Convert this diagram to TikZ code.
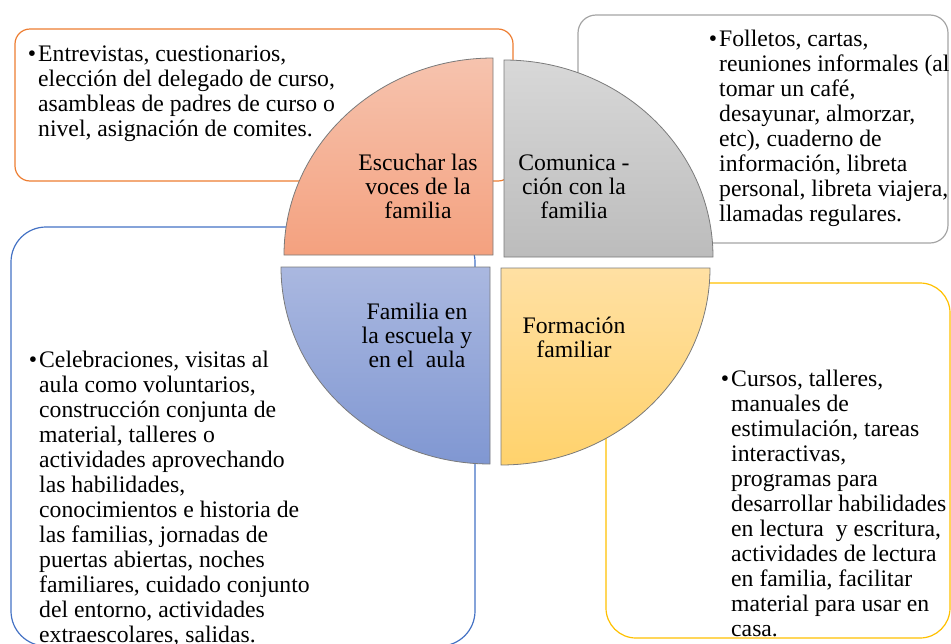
\documentclass[tikz,border=0pt]{standalone}
\usepackage{fontspec}
\setmainfont{Liberation Serif}
\definecolor{lineorange}{HTML}{ED7D31}
\definecolor{linegray}{HTML}{A5A5A5}
\definecolor{lineblue}{HTML}{4472C4}
\definecolor{lineyellow}{HTML}{FFC000}
\definecolor{quadedge}{HTML}{7A7A7A}
\begin{document}
\begin{tikzpicture}[x=1pt,y=-1pt,
  box/.style={line width=1.2pt,rounded corners=#1},
  quad/.style={draw=quadedge,line width=0.8pt},
  lbl/.style={inner sep=0pt,align=center,anchor=base,font=\fontsize{23.7}{24}\selectfont},
  txt/.style={inner sep=0pt,align=left,anchor=base west,font=\fontsize{23.7}{25}\selectfont}]
  \useasboundingbox (0,0) rectangle (951,643);
  \draw[box=15pt,draw=lineorange] (15,29) rectangle (513,181);
  \draw[box=18pt,draw=linegray] (578,15) rectangle (948,243);
  \draw[box=35pt,draw=lineblue] (11,227) rectangle (475,646);
  \draw[box=30pt,draw=lineyellow] (606,283) rectangle (950,638);
  \draw[quad,top color={rgb,255:red,246;green,195;blue,174},bottom color={rgb,255:red,244;green,161;blue,127}]
    (493,255) -- ++(-209,0) arc[start angle=180,end angle=270,x radius=209,y radius=197] -- cycle;
  \draw[quad,top color={rgb,255:red,216;green,216;blue,216},bottom color={rgb,255:red,188;green,188;blue,188}]
    (504,257) -- ++(0,-197) arc[start angle=270,end angle=360,x radius=209,y radius=197] -- cycle;
  \draw[quad,top color={rgb,255:red,255;green,224;blue,163},bottom color={rgb,255:red,255;green,210;blue,108}]
    (501,268) -- ++(209,0) arc[start angle=0,end angle=90,x radius=209,y radius=197] -- cycle;
  \draw[quad,top color={rgb,255:red,170;green,184;blue,224},bottom color={rgb,255:red,128;green,151;blue,210}]
    (490,267) -- ++(0,197) arc[start angle=90,end angle=180,x radius=209,y radius=197] -- cycle;
  \node[lbl] (voces) at (418,218) {Escuchar las\\ voces de la\\ familia};
  \node[lbl] (comunica) at (574,218) {Comunica -\\ ción con la\\ familia};
  \node[lbl] (aula) at (417,367) {Familia en\\ la escuela y\\ en el\ \ aula};
  \node[lbl] (formacion) at (574,357) {Formación\\ familiar};
  \node[txt] (txtvoces) at (38,136) {\llap{\textbullet\hspace{2pt}}Entrevistas, cuestionarios,\\
    elección del delegado de curso,\\ asambleas de padres de curso o\\ nivel, asignación de comites.};
  \node[txt] (txtcomunica) at (719,221) {\llap{\textbullet\hspace{2pt}}Folletos, cartas,\\
    reuniones informales (al\\ tomar un café,\\ desayunar, almorzar,\\ etc), cuaderno de\\
    información, libreta\\ personal, libreta viajera,\\ llamadas regulares.};
  \node[txt] (txtaula) at (39,642) {\llap{\textbullet\hspace{2pt}}Celebraciones, visitas al\\
    aula como voluntarios,\\ construcción conjunta de\\ material, talleres o\\
    actividades aprovechando\\ las habilidades,\\ conocimientos e historia de\\
    las familias, jornadas de\\ puertas abiertas, noches\\ familiares, cuidado conjunto\\
    del entorno, actividades\\ extraescolares, salidas.};
  \node[txt] (txtformacion) at (731,636) {\llap{\textbullet\hspace{2pt}}Cursos, talleres,\\
    manuales de\\ estimulación, tareas\\ interactivas,\\ programas para\\
    desarrollar habilidades\\ en lectura\ \ y escritura,\\ actividades de lectura\\
    en familia, facilitar\\ material para usar en\\ casa.};
\end{tikzpicture}
\end{document}
